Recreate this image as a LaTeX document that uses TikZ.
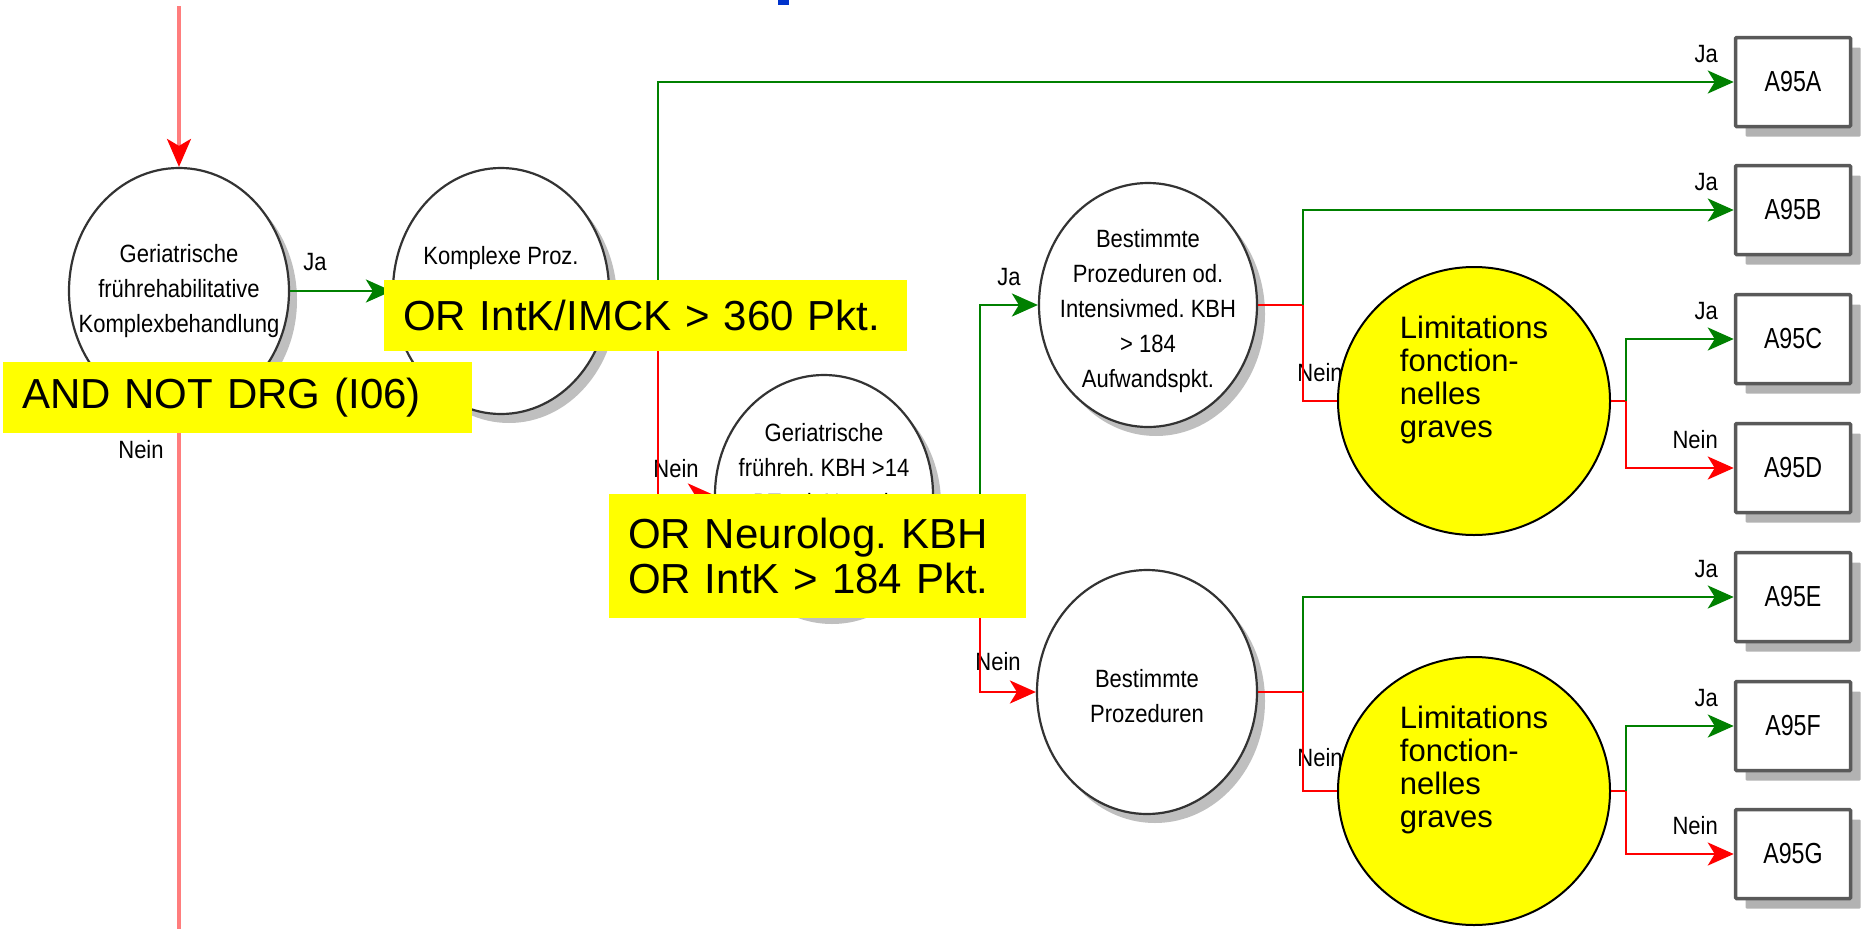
\documentclass[tikz,border=0pt]{standalone}
\usepackage{fontspec}
\setmainfont{Liberation Sans}
\newfontfamily\narrowfont[FakeStretch=0.88]{Liberation Sans}
\newfontfamily\boxfont[FakeStretch=0.8]{Liberation Sans}
\usetikzlibrary{shapes.geometric,shadows,arrows.meta}
\frenchspacing

\definecolor{jagreen}{RGB}{0,128,0}
\definecolor{neinred}{RGB}{255,0,0}
\definecolor{paleline}{RGB}{255,125,125}
\definecolor{notebg}{RGB}{255,255,0}
\definecolor{titleblue}{RGB}{0,51,204}

\begin{document}
\begin{tikzpicture}
	[
		x = 1pt, y = -1pt,
		decision/.style = {ellipse, draw=black!80, line width=2.2pt, fill=white, inner sep=0pt,
			drop shadow={shadow xshift=8pt, shadow yshift=-9pt, fill=black!25, opacity=1}},
		limit/.style = {ellipse, draw=black, line width=2pt, fill=notebg, inner sep=0pt,
			minimum width=272pt, minimum height=268pt},
		outcome/.style = {rectangle, draw=black!65, line width=3.5pt, fill=white, rounded corners=1pt,
			minimum width=115pt, minimum height=89pt, font=\boxfont\fontsize{29}{32}\selectfont,
			drop shadow={shadow xshift=10pt, shadow yshift=-10pt, fill=black!30, opacity=1}},
		circtext/.style = {font=\narrowfont\fontsize{25}{35}\selectfont, align=center, inner sep=0pt},
		limittext/.style = {font=\fontsize{31}{33.3}\selectfont, align=left, inner sep=0pt, yshift=21pt},
		answer/.style = {font=\narrowfont\fontsize{25}{28}\selectfont, inner sep=0pt},
		note/.style = {fill=notebg, inner xsep=19pt, inner ysep=0pt, align=left,
			font=\fontsize{42}{45}\selectfont},
		jaline/.style = {draw=jagreen, line width=2.8pt, -{Stealth[length=26pt, width=23pt, inset=7pt]}},
		neinline/.style = {draw=neinred, line width=2.8pt, -{Stealth[length=26pt, width=23pt, inset=7pt]}},
		stub/.style = {draw=neinred, line width=2.8pt}]

	\useasboundingbox (0,0) rectangle (1866,929);
	\fill[titleblue] (778,0) rectangle (789,5);

	% Entscheidungen
	\node[decision, minimum width=220pt, minimum height=246pt,
		label={[circtext]center:Geriatrische\\frührehabilitative\\Komplexbehandlung}] (gfk) at (179,291) {};
	\node[decision, minimum width=216pt, minimum height=246pt,
		label={[circtext, yshift=33pt]center:Komplexe Proz.}] (kpx) at (501,291) {};
	\node[decision, minimum width=218pt, minimum height=240pt,
		label={[circtext, yshift=27pt]center:Geriatrische\\frühreh. KBH >14\\BT od. Neurol.}] (gfr) at (824,495) {};
	\node[decision, minimum width=218pt, minimum height=244pt,
		label={[circtext, yshift=-6pt]center:Bestimmte\\Prozeduren od.\\Intensivmed. KBH\\> 184\\Aufwandspkt.}] (bpi) at (1148,305) {};
	\node[decision, minimum width=220pt, minimum height=244pt,
		label={[circtext, yshift=-4pt]center:Bestimmte\\Prozeduren}] (bp) at (1147,692) {};

	% DRG
	\node[outcome] (a95a) at (1793,82) {A95A};
	\node[outcome] (a95b) at (1793,210) {A95B};
	\node[outcome] (a95c) at (1793,339) {A95C};
	\node[outcome] (a95d) at (1793,468) {A95D};
	\node[outcome] (a95e) at (1793,597) {A95E};
	\node[outcome] (a95f) at (1793,726) {A95F};
	\node[outcome] (a95g) at (1793,854) {A95G};

	% Ja / Nein
	\node[answer] (ja1) at (315,262) {Ja};
	\node[answer] (nein1) at (141,450) {Nein};
	\node[answer] (nein2) at (676,469) {Nein};
	\node[answer] (ja2) at (1009,277) {Ja};
	\node[answer] (nein3) at (998,662) {Nein};
	\node[answer] (nein4) at (1320,373) {Nein};
	\node[answer] (nein5) at (1320,758) {Nein};
	\node[answer, anchor=east] (jaa) at (1718,54) {Ja};
	\node[answer, anchor=east] (jab) at (1718,182) {Ja};
	\node[answer, anchor=east] (jac) at (1718,311) {Ja};
	\node[answer, anchor=east] (neind) at (1718,440) {Nein};
	\node[answer, anchor=east] (jae) at (1718,569) {Ja};
	\node[answer, anchor=east] (jaf) at (1718,698) {Ja};
	\node[answer, anchor=east] (neing) at (1718,826) {Nein};

	\node[limit, label={[limittext]center:Limitations\\fonction-\\nelles\\graves}] (lim1) at (1474,401) {};
	\node[limit, label={[limittext]center:Limitations\\fonction-\\nelles\\graves}] (lim2) at (1474,791) {};

	\coordinate (entry) at (179,6);
	\coordinate (exit) at (179,929);
	\coordinate (j1) at (658,291);
	\coordinate (j2) at (980,495);
	\coordinate (j3) at (1303,305);
	\coordinate (j4) at (1626,401);
	\coordinate (j5) at (1303,692);
	\coordinate (j6) at (1626,791);

	\draw[paleline, line width=3.2pt, -{Stealth[color=neinred, length=28pt, width=24pt, inset=7pt]}] (entry) -- (gfk.north);
	\draw[paleline, line width=3.2pt] (gfk.south) -- (exit);
	\draw[jaline] (gfk.east) -- (kpx.west);

	\draw[stub] (kpx.east) -- (j1);
	\draw[jaline] (j1) |- (a95a.west);
	\draw[neinline] (j1) |- (gfr.west);

	\draw[stub] (gfr.east) -- (j2);
	\draw[jaline] (j2) |- (bpi.west);
	\draw[neinline] (j2) |- (bp.west);

	\draw[stub] (bpi.east) -- (j3);
	\draw[jaline] (j3) |- (a95b.west);
	\draw[stub] (j3) |- (lim1.west);

	\draw[stub] (lim1.east) -- (j4);
	\draw[jaline] (j4) |- (a95c.west);
	\draw[neinline] (j4) |- (a95d.west);

	\draw[stub] (bp.east) -- (j5);
	\draw[jaline] (j5) |- (a95e.west);
	\draw[stub] (j5) |- (lim2.west);

	\draw[stub] (lim2.east) -- (j6);
	\draw[jaline] (j6) |- (a95f.west);
	\draw[neinline] (j6) |- (a95g.west);

	% Bedingungen
	\node[note, minimum width=523pt, minimum height=71pt, text width=485pt] (orimck) at (645.5,315.5) {OR IntK/IMCK > 360 Pkt.};
	\node[note, minimum width=469pt, minimum height=71pt, text width=431pt] (notdrg) at (237.5,397.5) {AND NOT DRG (I06)};
	\node[note, minimum width=417pt, minimum height=124pt, text width=379pt] (orneuro) at (817.5,556) {OR Neurolog. KBH\\OR IntK > 184 Pkt.};
\end{tikzpicture}
\end{document}
